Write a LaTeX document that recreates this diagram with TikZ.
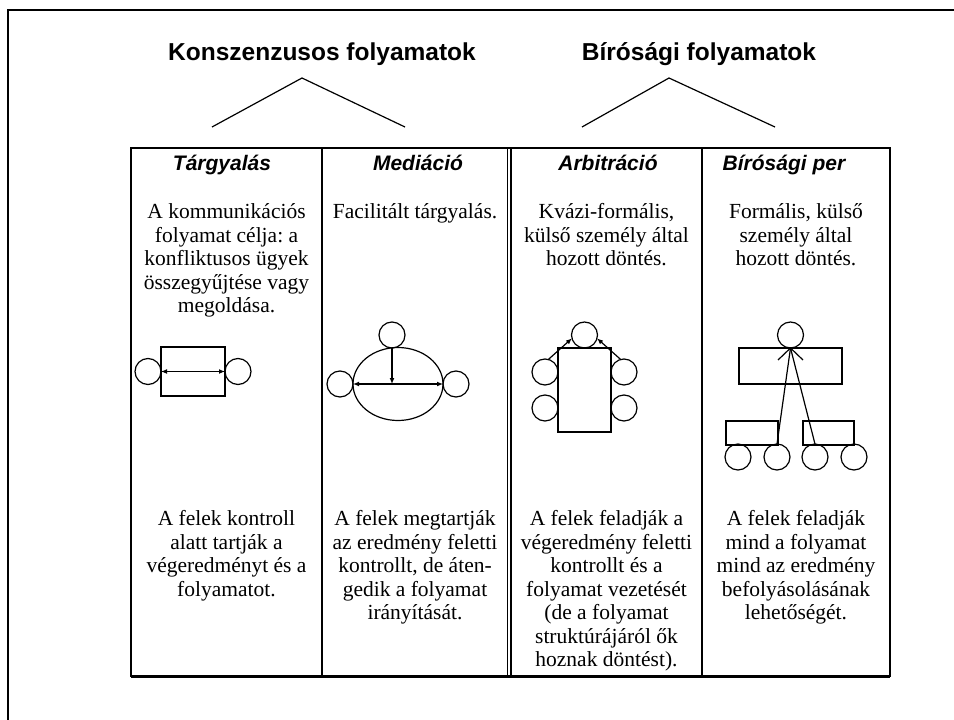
\documentclass[tikz,border=0pt]{standalone}
\usepackage{fontspec}
\setmainfont{Liberation Serif}
\setsansfont{Liberation Sans}
\usetikzlibrary{arrows.meta,positioning,shapes.geometric}
\frenchspacing

\tikzset{
	grouptitle/.style={font=\fontsize{24.5}{28}\selectfont\sffamily\bfseries, inner sep=0pt, anchor=base},
	colhead/.style={font=\fontsize{21}{24}\selectfont\sffamily\bfseries\itshape, inner sep=0pt, anchor=base},
	celltext/.style={font=\fontsize{21.5}{23.5}\selectfont, align=center, inner sep=0pt, anchor=north},
	party/.style={circle, draw, minimum size=26pt, inner sep=0pt, outer sep=0pt},
	desk/.style={rectangle, draw, inner sep=0pt, outer sep=0pt}
}

\begin{document}
\begin{tikzpicture}[x=1pt, y=-1pt, line width=1.2pt, >={Latex[length=6pt,width=5pt]}]
			\useasboundingbox (0,0) rectangle (954,720);
			
			% Frame
			\draw[line width=2.5pt] (8,720) -- (8,10) -- (954,10);
			
			% Group titles and wedges
			\node[grouptitle] (cons) at (322,60) {Konszenzusos folyamatok};
			\node[grouptitle] (court) at (699,60) {Bírósági folyamatok};
			\coordinate (c1) at (212,127);
			\coordinate (c2) at (302,78);
			\coordinate (c3) at (405,127);
			\coordinate (d1) at (582,127);
			\coordinate (d2) at (669,78);
			\coordinate (d3) at (775,127);
			\draw (c1) -- (c2) -- (c3);
			\draw (d1) -- (d2) -- (d3);
			
			% Table
			\draw[line width=2pt] (131,148) rectangle (890,676);
			\draw[line width=3pt] (131,676) -- (890,676);
			\draw[line width=1.2pt] (322,148) -- (322,676);
			\draw[line width=1.2pt] (507.5,148) -- (507.5,676);
			\draw[line width=1.2pt] (511,148) -- (511,676);
			\draw[line width=1.2pt] (702,148) -- (702,676);
			
			% Column heads
			\node[colhead] (h1) at (222,170) {Tárgyalás};
			\node[colhead] (h2) at (418,170) {Mediáció};
			\node[colhead] (h3) at (608,170) {Arbitráció};
			\node[colhead] (h4) at (784,170) {Bírósági per};
			
			% Upper texts
			\node[celltext] (u1) at (226.5,203) {A kommunikációs\\folyamat célja: a\\konfliktusos ügyek\\összegyűjtése vagy\\megoldása.};
			\node[celltext] (u2) at (415,203) {Facilitált tárgyalás.};
			\node[celltext] (u3) at (606.5,203) {Kvázi-formális,\\külső személy által\\hozott döntés.};
			\node[celltext] (u4) at (796,203) {Formális, külső\\személy által\\hozott döntés.};
			
			% Lower texts
			\node[celltext] (l1) at (226.5,510) {A felek kontroll\\alatt tartják a\\végeredményt és a\\folyamatot.};
			\node[celltext] (l2) at (415,510) {A felek megtartják\\az eredmény feletti\\kontrollt, de áten-\\gedik a folyamat\\irányítását.};
			\node[celltext] (l3) at (606.5,510) {A felek feladják a\\végeredmény feletti\\kontrollt és a\\folyamat vezetését\\(de a folyamat\\struktúrájáról ők\\hoznak döntést).};
			\node[celltext] (l4) at (796,510) {A felek feladják\\mind a folyamat\\mind az eredmény\\befolyásolásának\\lehetőségét.};
			
			% Negotiation
			\node[desk, minimum width=64pt, minimum height=49pt] (tdesk) at (193,371.5) {};
			\node[party, left=0pt of tdesk] (tleft) {};
			\node[party, right=0pt of tdesk] (tright) {};
			\draw[<->] (tdesk.west) -- (tdesk.east);
			
			% Mediation
			\node[ellipse, draw, minimum width=90pt, minimum height=73pt, inner sep=0pt, outer sep=0pt] (mtable) at (398,384) {};
			\node[party] (mtop) at (392,335) {};
			\node[party, left=0pt of mtable] (mleft) {};
			\node[party, right=0pt of mtable] (mright) {};
			\draw[->] (mtop.south) -- (mtop.south |- mtable.center);
			\draw[<->] (mtable.west) -- (mtable.east);
			
			% Arbitration
			\node[desk, minimum width=53pt, minimum height=84pt] (adesk) at (584.5,390) {};
			\node[party, above=0pt of adesk] (atop) {};
			\node[party] (al1) at (545,372) {};
			\node[party] (al2) at (545,408) {};
			\node[party] (ar1) at (624,372) {};
			\node[party] (ar2) at (624,408) {};
			\draw[->] (al1.75) -- (atop.195);
			\draw[->] (ar1.105) -- (atop.-15);
			
			% Court case
			\node[desk, minimum width=103pt, minimum height=36pt] (bdesk) at (790.5,366) {};
			\node[party, above=0pt of bdesk] (btop) {};
			\node[desk, minimum width=52pt, minimum height=24pt] (bd1) at (752,433) {};
			\node[desk, minimum width=51pt, minimum height=24pt] (bd2) at (828.5,433) {};
			\node[party] (bp1) at (738,457) {};
			\node[party] (bp2) at (777,457) {};
			\node[party] (bp3) at (815,457) {};
			\node[party] (bp4) at (854,457) {};
			\draw (bp2.north) -- (btop.south);
			\draw (bp3.north) -- (btop.south);
			\draw ([shift={(-12.5,12)}]btop.south) -- (btop.south) -- ([shift={(12.5,12)}]btop.south);
			
		\end{tikzpicture}
\end{document}
